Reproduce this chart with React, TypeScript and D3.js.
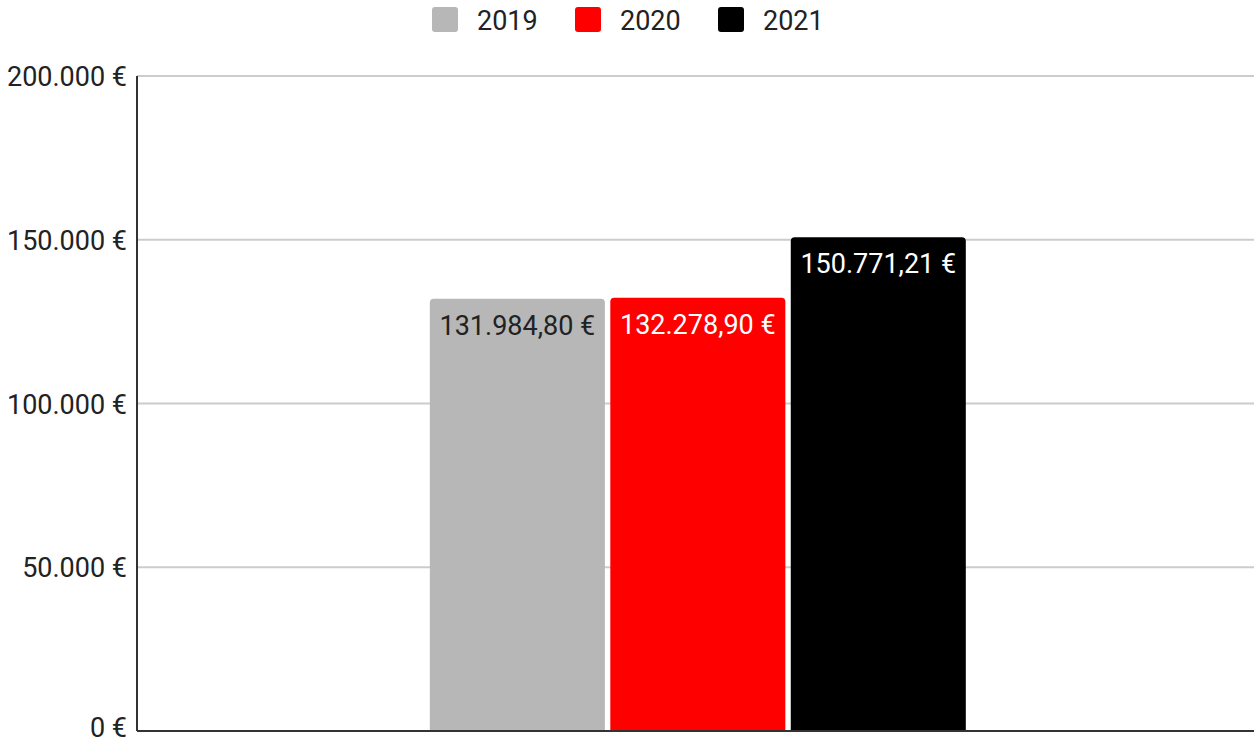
import React from "react";
import * as d3 from "d3";

const categories = [""];
const seriesNames = ["2019", "2020", "2021"];
const seriesValues = [131984.8, 132278.9, 150771.21];
const seriesColors = ["#b7b7b7", "#ff0000", "#000000"];
const labelColors = ["#222222", "#ffffff", "#ffffff"];
const yTicks = [0, 50000, 100000, 150000, 200000];

const W = 1254;
const H = 744;
const margin = { left: 137, right: 0, top: 76, bottom: 13 };

const fmtInt = (v: number) => {
  const s = Math.round(v).toString();
  return s.replace(/\B(?=(\d{3})+(?!\d))/g, ".");
};
const fmtTick = (v: number) => `${fmtInt(v)} €`;
const fmtVal = (v: number) => {
  const [i, d] = v.toFixed(2).split(".");
  return `${fmtInt(parseInt(i, 10))},${d} €`;
};

export default function App() {
  const x0 = d3
    .scaleBand<string>()
    .domain(categories)
    .range([margin.left, W - margin.right])
    .padding(0.3515)
    .align(0.504);
  const x1 = d3
    .scaleBand<string>()
    .domain(seriesNames)
    .range([0, x0.bandwidth()])
    .paddingInner(0.03);
  const y = d3
    .scaleLinear()
    .domain([0, 200000])
    .range([H - margin.bottom, margin.top]);

  const font = "Roboto, Arial, sans-serif";
  const fs = 27;
  const r = 4;

  const barPath = (x: number, yt: number, w: number, yb: number) =>
    `M${x},${yb}V${yt + r}Q${x},${yt} ${x + r},${yt}H${x + w - r}Q${x + w},${yt} ${x + w},${yt + r}V${yb}Z`;

  const legendX = [432, 575, 718];

  return (
    <svg width={W} height={H} style={{ position: "absolute", left: 0, top: 0 }} fontFamily={font}>
      <rect width={W} height={H} fill="#ffffff" />
      {/* legend */}
      {seriesNames.map((s, i) => (
        <g key={s}>
          <rect x={legendX[i]} y={7} width={26} height={25} rx={3} fill={seriesColors[i]} />
          <text x={legendX[i] + 45} y={30} fontSize={fs} fill="#222222">
            {s}
          </text>
        </g>
      ))}
      {/* grid */}
      {yTicks.map((t) => (
        <g key={t}>
          {t !== 0 && (
            <line x1={margin.left} x2={W - margin.right} y1={y(t)} y2={y(t)} stroke="#cccccc" strokeWidth={2} />
          )}
          <text x={127} y={t === 0 ? y(t) + 6 : y(t) + 10} textAnchor="end" fontSize={fs} fill="#222222">
            {fmtTick(t)}
          </text>
        </g>
      ))}
      {/* bars */}
      {categories.map((c) => (
        <g key={c} transform={`translate(${x0(c)},0)`}>
          {seriesNames.map((s, i) => {
            const bx = x1(s)!;
            const bw = x1.bandwidth();
            const yt = y(seriesValues[i]);
            return (
              <g key={s}>
                <path d={barPath(bx, yt, bw, y(0))} fill={seriesColors[i]} />
                <text
                  x={bx + bw / 2}
                  y={yt + 36}
                  textAnchor="middle"
                  fontSize={fs}
                  fill={labelColors[i]}
                >
                  {fmtVal(seriesValues[i])}
                </text>
              </g>
            );
          })}
        </g>
      ))}
      {/* axes */}
      <line x1={margin.left} x2={margin.left} y1={margin.top} y2={y(0)} stroke="#333333" strokeWidth={2} />
      <line x1={margin.left} x2={W - margin.right} y1={y(0)} y2={y(0)} stroke="#333333" strokeWidth={2} />
    </svg>
  );
}
